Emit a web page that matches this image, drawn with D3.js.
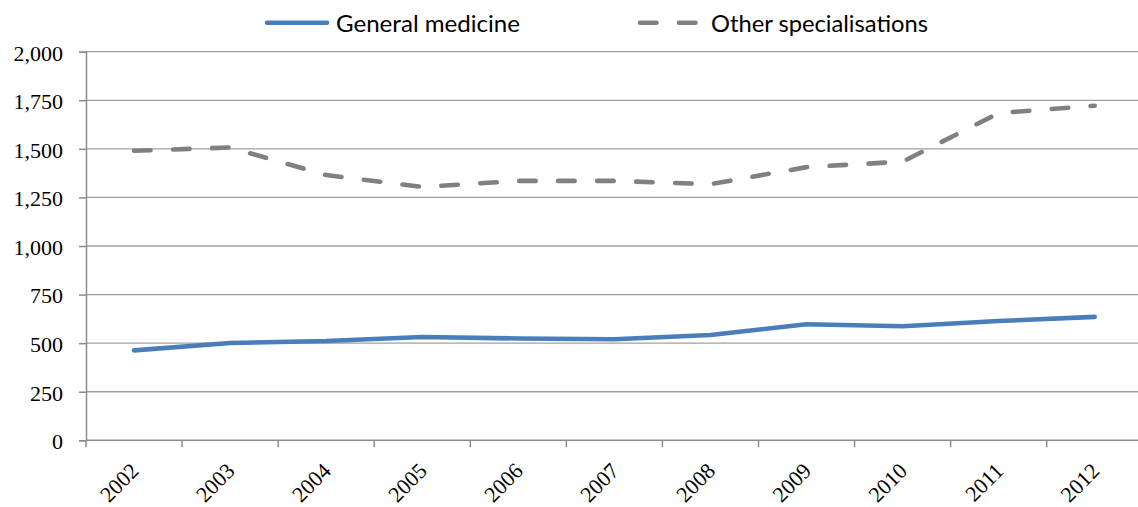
<!DOCTYPE html>
<html>
<head>
<meta charset="utf-8">
<script src="https://cdn.jsdelivr.net/npm/d3@7"></script>
<style>
  html, body { margin: 0; padding: 0; background: #fff; }
  svg { display: block; }
</style>
</head>
<body>
<svg id="chart" width="1138" height="507"></svg>
<script>
// Doctors by field, 2002–2012
const years = ["2002","2003","2004","2005","2006","2007","2008","2009","2010","2011","2012"];
const generalMedicine = [463, 501, 511, 532, 524, 520, 542, 597, 587, 614, 635];
const otherSpecialisations = [1490, 1507, 1365, 1304, 1335, 1335, 1318, 1406, 1434, 1684, 1722];
const yTicks = [0, 250, 500, 750, 1000, 1250, 1500, 1750, 2000];
const seriesNames = ["General medicine", "Other specialisations"];

(function () {
  const svg = d3.select("#chart");
  const serif = "Liberation Serif";
  const sans = "Lato";
  const plotLeft = 86, plotTop = 51.7, plotBottom = 440.3;
  const bandW = 96.07;
  const plotRight = plotLeft + bandW * years.length;

  const x = d3.scaleBand().domain(years).range([plotLeft, plotRight]);
  const y = d3.scaleLinear().domain([0, 2000]).range([plotBottom, plotTop]);

  // horizontal gridlines
  svg.append("g").selectAll("line")
    .data(yTicks.filter(d => d > 0))
    .join("line")
    .attr("x1", plotLeft).attr("x2", plotRight)
    .attr("y1", d => y(d)).attr("y2", d => y(d))
    .attr("stroke", "#a0a0a0").attr("stroke-width", 1.3);

  // y axis
  const yAxis = svg.append("g")
    .attr("transform", `translate(${plotLeft},0)`)
    .call(d3.axisLeft(y).tickValues(yTicks).tickSize(7).tickPadding(16)
      .tickFormat(d3.format(",")));
  yAxis.attr("font-family", serif).attr("font-size", 22);
  yAxis.select(".domain").attr("stroke", "#8c8c8c").attr("stroke-width", 1.5);
  yAxis.selectAll(".tick line").attr("stroke", "#8c8c8c").attr("stroke-width", 1.5);
  yAxis.selectAll(".tick text")
    .attr("font-family", serif).attr("font-size", 22)
    .attr("fill", "#000").attr("dy", "0.38em");

  // x axis: ticks at band boundaries
  const boundaries = d3.range(years.length + 1).map(i => plotLeft + i * x.step());
  const xg = svg.append("g");
  xg.append("line").attr("x1", plotLeft).attr("x2", plotRight)
    .attr("y1", plotBottom).attr("y2", plotBottom)
    .attr("stroke", "#8c8c8c").attr("stroke-width", 1.5);
  xg.selectAll("line.tk").data(boundaries).join("line").attr("class", "tk")
    .attr("x1", d => d).attr("x2", d => d)
    .attr("y1", plotBottom).attr("y2", plotBottom + 7)
    .attr("stroke", "#8c8c8c").attr("stroke-width", 1.5);
  xg.selectAll("text").data(years).join("text")
    .attr("transform", d => `translate(${x(d) + x.bandwidth() / 2 + 6},${plotBottom + 32}) rotate(-45)`)
    .attr("text-anchor", "end")
    .attr("font-family", serif).attr("font-size", 22).attr("fill", "#000")
    .text(d => d);

  const cx = d => x(d) + x.bandwidth() / 2;
  const line = d3.line().x((d, i) => cx(years[i])).y(d => y(d));

  svg.append("path").datum(otherSpecialisations)
    .attr("d", line).attr("fill", "none")
    .attr("stroke", "#808080").attr("stroke-width", 4.6)
    .attr("stroke-linecap", "round").attr("stroke-linejoin", "round")
    .attr("stroke-dasharray", "16.5,22.5");

  svg.append("path").datum(generalMedicine)
    .attr("d", line).attr("fill", "none")
    .attr("stroke", "#4a7ebb").attr("stroke-width", 4.6)
    .attr("stroke-linecap", "round").attr("stroke-linejoin", "round");

  // legend
  const legend = svg.append("g");
  legend.append("line").attr("x1", 267).attr("x2", 327).attr("y1", 22.7).attr("y2", 22.7)
    .attr("stroke", "#4a7ebb").attr("stroke-width", 4.6).attr("stroke-linecap", "round");
  legend.append("text")
    .attr("x", 336).attr("y", 31.5)
    .attr("textLength", 184).attr("lengthAdjust", "spacingAndGlyphs")
    .attr("font-family", sans).attr("font-size", 23).attr("fill", "#000")
    .text(seriesNames[0]);
  legend.append("line").attr("x1", 640).attr("x2", 697).attr("y1", 22.7).attr("y2", 22.7)
    .attr("stroke", "#808080").attr("stroke-width", 4.6).attr("stroke-linecap", "round")
    .attr("stroke-dasharray", "16.5,22.5");
  legend.append("text")
    .attr("x", 711).attr("y", 31.5)
    .attr("textLength", 217).attr("lengthAdjust", "spacingAndGlyphs")
    .attr("font-family", sans).attr("font-size", 23).attr("fill", "#000")
    .text(seriesNames[1]);
})();
</script>
</body>
</html>
